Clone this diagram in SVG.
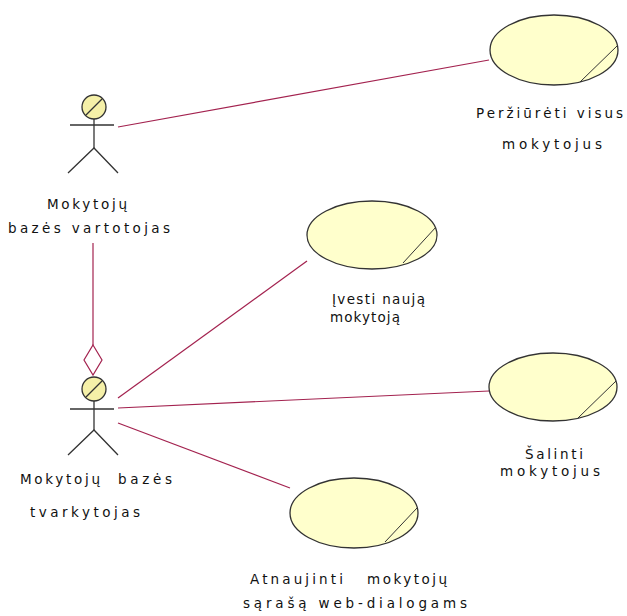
<svg xmlns="http://www.w3.org/2000/svg" width="627" height="616" viewBox="0 0 627 616">
<style>
.uc ellipse{fill:#ffffcc;stroke:#333;stroke-width:1.3}
.uc line{stroke:#333;stroke-width:1}
.act circle{fill:#f5f0a8;stroke:#333;stroke-width:1.3}
.act line,.act path{stroke:#333;stroke-width:1.3;fill:none}
.con line{stroke:#a3224f;stroke-width:1.2}
.con path{stroke:#a3224f;stroke-width:1.2;fill:#fff}
text{font-family:"DejaVu Sans","Liberation Sans",sans-serif;font-size:13.5px;fill:#111}
</style>
<rect width="627" height="616" fill="#fff"/>
<g id="connectors" class="con">
<line x1="118" y1="127" x2="489" y2="60"/>
<line x1="93" y1="243" x2="93" y2="345"/>
<path d="M93 345 L102 360 L93 375 L84 360 Z"/>
<line x1="118" y1="398" x2="307" y2="261"/>
<line x1="118" y1="408" x2="489" y2="391"/>
<line x1="118" y1="423" x2="290" y2="488"/>
</g>
<g id="actor1" class="act">
<circle cx="94" cy="107" r="12"/>
<line x1="86" y1="115" x2="102" y2="99"/>
<line x1="70" y1="125" x2="114" y2="125"/>
<line x1="94" y1="119" x2="94" y2="148"/>
<path d="M68 173 L94 148 L118 173"/>
<text x="87" y="209" text-anchor="middle" textLength="80" lengthAdjust="spacing">Mokytojų</text>
<text x="89" y="233" text-anchor="middle" textLength="162" lengthAdjust="spacing">bazės vartotojas</text>
</g>
<g id="actor2" class="act">
<circle cx="94" cy="389" r="12"/>
<line x1="86" y1="397" x2="102" y2="381"/>
<line x1="70" y1="409" x2="114" y2="409"/>
<line x1="94" y1="401" x2="94" y2="430"/>
<path d="M68 455 L94 430 L118 455"/>
<text x="20" y="484" textLength="80" lengthAdjust="spacing">Mokytojų</text>
<text x="118" y="484" textLength="54" lengthAdjust="spacing">bazės</text>
<text x="30" y="517" textLength="110" lengthAdjust="spacing">tvarkytojas</text>
</g>
<g id="uc1" class="uc">
<ellipse cx="554" cy="50" rx="64" ry="35"/>
<line x1="617" y1="46" x2="580" y2="82"/>
<text x="476" y="118" textLength="147" lengthAdjust="spacing">Peržiūrėti visus</text>
<text x="502" y="149" textLength="100" lengthAdjust="spacing">mokytojus</text>
</g>
<g id="uc2" class="uc">
<ellipse cx="372" cy="235" rx="65" ry="34"/>
<line x1="436" y1="227" x2="403" y2="263"/>
<text x="332" y="304" textLength="93" lengthAdjust="spacing">Įvesti naują</text>
<text x="330" y="322" textLength="70" lengthAdjust="spacing">mokytoją</text>
</g>
<g id="uc3" class="uc">
<ellipse cx="553" cy="387" rx="64" ry="34"/>
<line x1="616" y1="381" x2="578" y2="418"/>
<text x="525" y="459" textLength="58" lengthAdjust="spacing">Šalinti</text>
<text x="500" y="476" textLength="100" lengthAdjust="spacing">mokytojus</text>
</g>
<g id="uc4" class="uc">
<ellipse cx="354" cy="513" rx="64" ry="35"/>
<line x1="417" y1="508" x2="385" y2="542"/>
<text x="250" y="584" textLength="93" lengthAdjust="spacing">Atnaujinti</text>
<text x="367" y="584" textLength="80" lengthAdjust="spacing">mokytojų</text>
<text x="243" y="608" textLength="224" lengthAdjust="spacing">sąrašą web-dialogams</text>
</g>
</svg>
